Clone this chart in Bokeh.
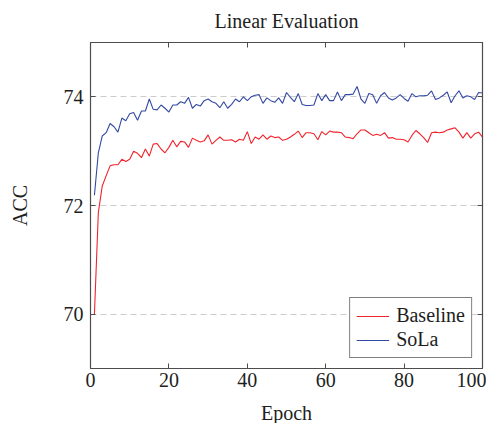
from bokeh.plotting import figure
from bokeh.models import (Range1d, LinearAxis, FixedTicker, Legend, LegendItem,
                          CustomJSTickFormatter)
from bokeh.embed import file_html
from bokeh.resources import INLINE

epochs = list(range(1, 101))
baseline = [70.0, 71.87, 72.36, 72.55, 72.73, 72.75, 72.75, 72.85, 72.81, 72.85,
            73.0, 72.96, 72.88, 73.04, 72.91, 73.13, 73.14, 73.04, 72.97, 73.07,
            73.20, 73.08, 73.18, 73.17, 73.07, 73.24, 73.20, 73.17, 73.19, 73.30,
            73.13, 73.20, 73.26, 73.20, 73.20, 73.21, 73.17, 73.22, 73.20, 73.36,
            73.14, 73.26, 73.22, 73.30, 73.22, 73.28, 73.25, 73.26, 73.20, 73.22,
            73.26, 73.31, 73.37, 73.25, 73.34, 73.34, 73.32, 73.21, 73.36, 73.30,
            73.37, 73.35, 73.35, 73.34, 73.26, 73.25, 73.23, 73.32, 73.39, 73.39,
            73.34, 73.29, 73.31, 73.29, 73.34, 73.24, 73.25, 73.22, 73.22, 73.21,
            73.17, 73.29, 73.38, 73.32, 73.25, 73.16, 73.34, 73.35, 73.34, 73.35,
            73.39, 73.41, 73.43, 73.35, 73.24, 73.34, 73.24, 73.32, 73.35, 73.26]
sola = [72.19, 72.97, 73.28, 73.34, 73.51, 73.45, 73.35, 73.61, 73.56, 73.69,
        73.71, 73.57, 73.74, 73.74, 73.96, 73.77, 73.76, 73.85, 73.79, 73.72,
        73.85, 73.85, 73.91, 73.88, 73.99, 73.79, 73.86, 73.83, 73.93, 73.96,
        73.91, 73.88, 73.80, 73.91, 73.79, 73.86, 73.96, 73.91, 74.00, 73.93,
        74.00, 74.03, 74.04, 73.88, 73.98, 73.93, 73.90, 73.98, 73.88, 74.08,
        73.99, 73.91, 74.06, 73.86, 73.84, 73.84, 73.85, 74.06, 73.93, 74.04,
        73.93, 73.93, 74.09, 73.93, 74.04, 74.04, 74.05, 74.19, 73.96, 73.88,
        74.06, 74.04, 73.88, 74.02, 74.08, 73.98, 73.94, 73.98, 74.04, 73.97,
        73.92, 74.06, 74.00, 74.02, 74.02, 74.03, 74.11, 73.95, 73.98, 74.03,
        74.09, 73.89, 74.02, 74.11, 73.98, 74.02, 74.00, 73.95, 74.08, 74.07]
x_ticks = [0, 20, 40, 60, 80, 100]
y_ticks = [70, 72, 74]

FONT = "Liberation Serif"
AX = "#4d4d4d"
TXT = "#1e1e1e"
FS = "20px"

p = figure(frame_width=392, frame_height=326, output_backend="svg", toolbar_location=None,
           x_range=Range1d(0, 100), y_range=Range1d(69, 75),
           min_border_left=90, min_border_right=4, min_border_top=42, min_border_bottom=20)
p.title.text = "Linear Evaluation"
p.title.align = "center"
p.title.vertical_align = "top"
p.title.text_font = FONT
p.title.text_font_size = FS
p.title.text_font_style = "normal"
p.title.text_color = TXT
p.title.standoff = 17

p.outline_line_color = AX
p.outline_line_width = 1.2
p.background_fill_color = "white"
p.border_fill_color = "white"

p.xgrid.visible = False
p.ygrid.ticker = FixedTicker(ticks=y_ticks)
p.ygrid.grid_line_color = "#cccccc"
p.ygrid.grid_line_dash = "6 4"
p.ygrid.grid_line_width = 1.2

for ax in p.xaxis + p.yaxis:
    ax.major_tick_in = 5
    ax.major_tick_out = 0
    ax.minor_tick_line_color = None
    ax.axis_line_color = AX
    ax.major_tick_line_color = AX
    ax.major_label_text_font = FONT
    ax.major_label_text_font_size = FS
    ax.major_label_text_color = TXT
    ax.axis_label_text_font = FONT
    ax.axis_label_text_font_size = FS
    ax.axis_label_text_font_style = "normal"
    ax.axis_label_text_color = TXT

p.xaxis.ticker = FixedTicker(ticks=x_ticks)
p.yaxis.ticker = FixedTicker(ticks=y_ticks)
p.xaxis.axis_label = "Epoch"
p.yaxis.axis_label = "ACC"
p.xaxis.major_label_standoff = 4
p.xaxis.axis_label_standoff = 12
p.yaxis.major_label_standoff = 7
p.yaxis.axis_label_standoff = 30
p.yaxis.major_label_orientation = "horizontal"

blank = CustomJSTickFormatter(code="return '';")
top = LinearAxis(ticker=FixedTicker(ticks=x_ticks), formatter=blank,
                 major_tick_in=5, major_tick_out=0, minor_tick_line_color=None,
                 axis_line_color=AX, major_tick_line_color=AX, major_label_standoff=0)
right = LinearAxis(ticker=FixedTicker(ticks=y_ticks), formatter=blank,
                   major_tick_in=5, major_tick_out=0, minor_tick_line_color=None,
                   axis_line_color=AX, major_tick_line_color=AX, major_label_standoff=0)
p.add_layout(top, "above")
p.add_layout(right, "right")

r1 = p.line(epochs, baseline, line_color="#f0232b", line_width=1.1)
r2 = p.line(epochs, sola, line_color="#3349a3", line_width=1.1)

legend = Legend(items=[LegendItem(label="Baseline", renderers=[r1]),
                       LegendItem(label="SoLa", renderers=[r2])],
                location="bottom_right")
legend.label_text_font = FONT
legend.label_text_font_size = FS
legend.label_text_color = TXT
legend.border_line_color = "black"
legend.border_line_width = 1
legend.glyph_width = 33
legend.label_standoff = 7
legend.label_height = 20
legend.glyph_height = 20
legend.spacing = 1
legend.padding = 6
legend.margin = 10
legend.background_fill_alpha = 1
p.add_layout(legend)

open("out.html", "w").write(file_html(p, INLINE))
